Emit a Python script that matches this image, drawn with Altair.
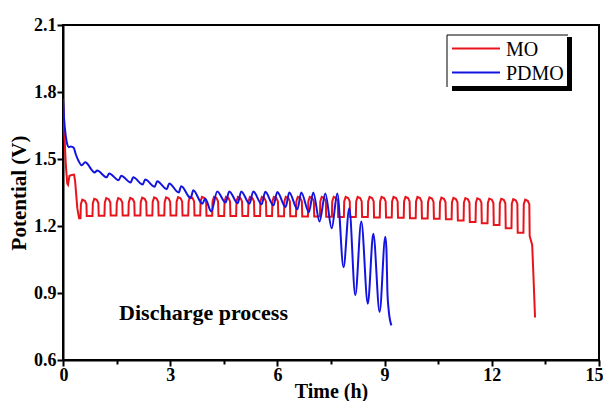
import altair as alt
import pandas as pd

# ---------------- data ----------------
series_names = ["MO", "PDMO"]
series_colors = ["#e8141c", "#1414e0"]

# MO (red) initial drop
mo_init_t = [0.00, 0.03, 0.08, 0.12, 0.14, 0.18, 0.25, 0.31, 0.34, 0.40, 0.45]
mo_init_v = [1.765, 1.64, 1.47, 1.39, 1.385, 1.425, 1.428, 1.43, 1.40, 1.28, 1.235]
# MO pulse cycles: step-up times, plateau tops, following lows
mo_cycle_t = [0.49, 0.825, 1.16, 1.495, 1.83, 2.165, 2.50, 2.835, 3.17, 3.505,
              3.84, 4.175, 4.51, 4.845, 5.18, 5.515, 5.85, 6.185, 6.52, 6.855,
              7.19, 7.525, 7.86, 8.195, 8.53, 8.865, 9.20, 9.535, 9.87, 10.205,
              10.54, 10.875, 11.21, 11.545, 11.88, 12.215, 12.55, 12.885]
mo_cycle_peak = [1.318, 1.322, 1.325, 1.325, 1.326, 1.327, 1.328, 1.328, 1.329, 1.33,
                 1.33, 1.33, 1.33, 1.33, 1.33, 1.33, 1.33, 1.33, 1.33, 1.33,
                 1.33, 1.33, 1.33, 1.33, 1.33, 1.33, 1.33, 1.33, 1.33, 1.328,
                 1.327, 1.326, 1.325, 1.324, 1.323, 1.322, 1.32, 1.318]
mo_cycle_low = [1.245, 1.246, 1.247, 1.247, 1.247, 1.247, 1.247, 1.247, 1.247, 1.247,
                1.246, 1.245, 1.245, 1.245, 1.245, 1.245, 1.244, 1.244, 1.243, 1.242,
                1.241, 1.24, 1.24, 1.24, 1.238, 1.238, 1.237, 1.235, 1.234, 1.232,
                1.23, 1.225, 1.218, 1.212, 1.205, 1.19, 1.17]
mo_tail_t = [13.06, 13.13, 13.16, 13.21]
mo_tail_v = [1.155, 1.115, 1.00, 0.79]

# PDMO (blue) initial drop
pd_init_t = [0.00, 0.03, 0.08, 0.12, 0.16, 0.22, 0.30, 0.36, 0.44, 0.52]
pd_init_v = [1.77, 1.68, 1.60, 1.565, 1.553, 1.556, 1.55, 1.52, 1.49, 1.472]
# PDMO cycles: peak times / values, following trough times / values
pd_peak_t = [0.62, 0.956, 1.292, 1.628, 1.964, 2.30, 2.636, 2.972, 3.308, 3.644,
             3.98, 4.316, 4.652, 4.988, 5.324, 5.66, 5.996, 6.332, 6.668, 7.004,
             7.34, 7.676, 8.012, 8.348, 8.684, 9.02]
pd_peak_v = [1.485, 1.448, 1.435, 1.425, 1.418, 1.408, 1.40, 1.39, 1.378, 1.36,
             1.322, 1.355, 1.355, 1.355, 1.355, 1.353, 1.352, 1.35, 1.35, 1.35,
             1.346, 1.346, 1.28, 1.22, 1.165, 1.152]
pd_trough_t = [0.886, 1.222, 1.558, 1.894, 2.23, 2.566, 2.902, 3.238, 3.574, 3.90,
               4.15, 4.55, 4.89, 5.22, 5.56, 5.89, 6.23, 6.56, 6.88, 7.18,
               7.52, 7.85, 8.18, 8.53, 8.86]
pd_trough_v = [1.44, 1.418, 1.405, 1.395, 1.386, 1.376, 1.365, 1.35, 1.325, 1.30,
               1.265, 1.305, 1.302, 1.30, 1.297, 1.292, 1.285, 1.275, 1.262, 1.22,
               1.19, 1.015, 0.89, 0.852, 0.815]
pd_tail_t = [9.05, 9.08, 9.11, 9.19]
pd_tail_v = [1.10, 0.90, 0.83, 0.755]

x_ticks = [0, 1.5, 3, 4.5, 6, 7.5, 9, 10.5, 12, 13.5, 15]
y_ticks = [0.6, 0.75, 0.9, 1.05, 1.2, 1.35, 1.5, 1.65, 1.8, 1.95, 2.1]
annotation = "Discharge process"

# ---------------- assemble line tables ----------------
rows = []
for t, v in zip(mo_init_t, mo_init_v):
    rows.append((t, v, "MO"))
prev_low = mo_init_v[-1]
for k, (s, p) in enumerate(zip(mo_cycle_t, mo_cycle_peak)):
    rows.append((s, prev_low, "MO"))
    rows.append((s + 0.01, p - 0.02, "MO"))
    rows.append((s + 0.05, p, "MO"))
    rows.append((s + 0.12, p - 0.005, "MO"))
    rows.append((s + 0.165, p - 0.02, "MO"))
    if k < len(mo_cycle_low):
        rows.append((s + 0.175, mo_cycle_low[k], "MO"))
        prev_low = mo_cycle_low[k]
for t, v in zip(mo_tail_t, mo_tail_v):
    rows.append((t, v, "MO"))

for t, v in zip(pd_init_t, pd_init_v):
    rows.append((t, v, "PDMO"))
for k in range(len(pd_peak_t)):
    rows.append((pd_peak_t[k], pd_peak_v[k], "PDMO"))
    if k < len(pd_trough_t):
        rows.append((pd_trough_t[k], pd_trough_v[k], "PDMO"))
for t, v in zip(pd_tail_t, pd_tail_v):
    rows.append((t, v, "PDMO"))

df = pd.DataFrame(rows, columns=["t", "v", "series"])
df["i"] = range(len(df))

W, H = 536, 335
FONT = "Liberation Serif"

x_enc = alt.X("t:Q", scale=alt.Scale(domain=[0, 15], nice=False),
              axis=alt.Axis(values=x_ticks, title="Time (h)",
                            labelExpr="datum.value % 3 === 0 ? datum.label : ''",
                            tickSize={"condition": {"test": "datum.value % 3 === 0", "value": 6}, "value": 4},
                            labelPadding=0, labelFlush=1, labelFlushOffset=4,
                            titleFontSize=20, titleBaseline="alphabetic", titleY=37))
y_enc = alt.Y("v:Q", scale=alt.Scale(domain=[0.6, 2.1], nice=False, zero=False),
              axis=alt.Axis(values=y_ticks, title="Potential (V)", format=".1f",
                            labelExpr="round(datum.value * 100) % 30 === 0 ? datum.label : ''",
                            tickSize={"condition": {"test": "round(datum.value * 100) % 30 === 0", "value": 6}, "value": 4},
                            labelPadding=1, titlePadding=4, labelFlush=False))
color_enc = alt.Color("series:N", scale=alt.Scale(domain=series_names, range=series_colors), legend=None)

base = alt.Chart(df)
red = base.transform_filter(alt.datum.series == "MO").mark_line(
    strokeWidth=2, interpolate="linear", clip=True
).encode(x=x_enc, y=y_enc, color=color_enc, order="i:Q")
blue = base.transform_filter(alt.datum.series == "PDMO").mark_line(
    strokeWidth=2, interpolate="monotone", clip=True
).encode(x=x_enc, y=y_enc, color=color_enc, order="i:Q")

ann = alt.Chart(pd.DataFrame({"t": [1.57], "v": [0.81], "label": [annotation]})).mark_text(
    align="left", baseline="middle", font=FONT, fontWeight="bold", fontSize=22, color="black"
).encode(x="t:Q", y="v:Q", text="label:N")

one = pd.DataFrame({"a": [0]})
leg_top = alt.Chart(one).mark_rule(color="black", strokeWidth=1).encode(
    x=alt.value(384), x2=alt.value(505), y=alt.value(10))
leg_left = alt.Chart(one).mark_rule(color="black", strokeWidth=1).encode(
    x=alt.value(384), y=alt.value(10), y2=alt.value(62))
leg_sh_r = alt.Chart(one).mark_rect(color="black").encode(
    x=alt.value(504), x2=alt.value(509), y=alt.value(12), y2=alt.value(66))
leg_sh_b = alt.Chart(one).mark_rect(color="black").encode(
    x=alt.value(389), x2=alt.value(509), y=alt.value(61), y2=alt.value(66))
leg_layers = [leg_top, leg_left, leg_sh_r, leg_sh_b]
for i, (name, col) in enumerate(zip(series_names, series_colors)):
    yy = 23.5 + 24 * i
    leg_layers.append(alt.Chart(one).mark_rule(color=col, strokeWidth=2).encode(
        x=alt.value(389), x2=alt.value(437), y=alt.value(yy)))
    leg_layers.append(alt.Chart(one).mark_text(
        align="left", baseline="middle", font=FONT, fontSize=20, color="black"
    ).encode(x=alt.value(443), y=alt.value(yy + 1), text=alt.value(name)))

chart = alt.layer(red, blue, ann, *leg_layers).properties(
    width=W, height=H,
    autosize=alt.AutoSizeParams(type="none"),
    padding={"left": 55, "top": 17, "right": 4, "bottom": 41},
    background="white",
).configure_view(
    stroke="black", strokeWidth=2
).configure_axis(
    domainColor="black", domainWidth=2, tickColor="black", tickWidth=2,
    labelFont=FONT, labelFontWeight="bold", labelFontSize=18, labelColor="black",
    titleFont=FONT, titleFontWeight="bold", titleFontSize=21, titleColor="black",
    grid=False,
)

chart.save("out.html", embed_options={"renderer": "svg", "actions": False})
